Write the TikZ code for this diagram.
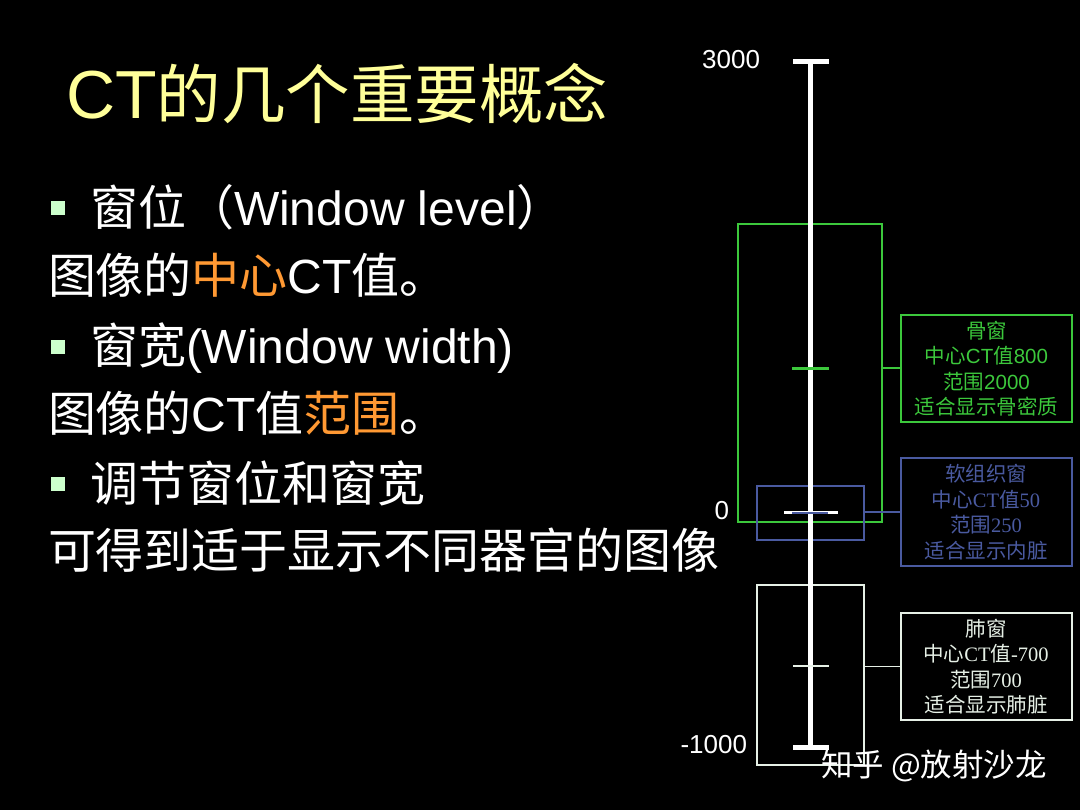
\documentclass[tikz,border=0pt]{standalone}
\usepackage{fontspec}
\setmainfont{Liberation Sans}
\newfontfamily\cjk{Noto Sans CJK SC}
\newfontfamily\serifl{Liberation Serif}
\newcommand\zh[1]{{\cjk #1}}
\newcommand\sr[1]{{\serifl #1}}
\definecolor{titley}{HTML}{FFFF99}
\definecolor{orng}{HTML}{FF9933}
\definecolor{bulg}{HTML}{CCFFCC}
\definecolor{boneg}{HTML}{3CC83C}
\definecolor{softb}{HTML}{4A5AA0}
\definecolor{lungw}{HTML}{E6F0E6}
\begin{document}
\begin{tikzpicture}[x=1pt,y=-1pt,
  every node/.style={inner sep=0pt, outer sep=0pt},
  body/.style={anchor=base west, text=white, font=\fontsize{48}{58}\selectfont},
  bul/.style={fill=bulg, draw=none, minimum size=14pt},
  rng/.style={draw, line width=1.5pt, fill=none},
  lbl/.style={draw, line width=2pt, align=center, font=\fontsize{20.5}{25.5}\selectfont, minimum width=171pt, minimum height=107pt},
  axl/.style={anchor=east, text=white, font=\fontsize{26}{30}\selectfont},
]
\fill[black] (0,0) rectangle (1080,810);
\useasboundingbox (0,0) rectangle (1080,810);

% title
\node[anchor=base west, text=titley, font=\fontsize{68}{80}\selectfont] (title) at (66,119)
  {CT{\cjk\fontsize{64.5}{80}\selectfont 的几个重要概念}};

% bullets
\node[bul] (b1) at (57.5,208) {};
\node[bul] (b3) at (57.5,347) {};
\node[bul] (b5) at (57.5,484) {};

% body lines
\node[body] (l1) at (90,226) {\zh{窗位（}Window level\zh{）}};
\node[body] (l2) at (48,294) {\zh{图像的}\textcolor{orng}{\zh{中心}}CT\zh{值。}};
\node[body] (l3) at (90,364) {\zh{窗宽}(Window width)};
\node[body] (l4) at (48,432) {\zh{图像的}CT\zh{值}\textcolor{orng}{\zh{范围}}\zh{。}};
\node[body] (l5) at (90,501) {\zh{调节窗位和窗宽}};
\node[body] (l6) at (48,568) {\zh{可得到适于显示不同器官的图像}};

% range boxes
\node[rng, draw=boneg, minimum width=144pt, minimum height=298pt] (gbox) at (810,373) {};
\node[rng, draw=softb, minimum width=107pt, minimum height=54pt] (bbox) at (810.5,513) {};
\node[rng, draw=lungw, line width=1.2pt, minimum width=107pt, minimum height=180pt] (wbox) at (810.5,675) {};

% label boxes
\node[lbl, draw=boneg, text=boneg] (bone) at (986.5,368.5)
  {\zh{骨窗}\\\zh{中心}CT\zh{值}800\\\zh{范围}2000\\\zh{适合显示骨密质}};
\node[lbl, draw=softb, text=softb] (soft) at (986,512)
  {\zh{软组织窗}\\\zh{中心}\sr{CT}\zh{值}\sr{50}\\\zh{范围}\sr{250}\\\zh{适合显示内脏}};
\node[lbl, draw=lungw, text=lungw] (lung) at (986,666.5)
  {\zh{肺窗}\\\zh{中心}\sr{CT}\zh{值}\sr{-700}\\\zh{范围}\sr{700}\\\zh{适合显示肺脏}};

% connectors
\draw[boneg, line width=2pt] (bone.west) -- (bone.west -| gbox.east);
\draw[softb, line width=2pt] (soft.west) -- (soft.west -| bbox.east);
\draw[lungw, line width=1.2pt] (lung.west) -- (lung.west -| wbox.east);

% axis
\coordinate (top) at (810,62);
\coordinate (bot) at (810,747);
\coordinate (tl) at (793,62);
\coordinate (tr) at (829,62);
\coordinate (bl) at (793,747);
\coordinate (br) at (829,747);
\draw[white, line width=5pt] (top) -- (bot);
\draw[white, line width=5pt] (tl) -- (tr);
\draw[white, line width=5pt] (bl) -- (br);

% ticks
\coordinate (z0l) at (784,512.5);
\coordinate (z0r) at (838,512.5);
\coordinate (s0l) at (792,512.5);
\coordinate (s0r) at (828,512.5);
\coordinate (g8l) at (792,369);
\coordinate (g8r) at (829,369);
\coordinate (p7l) at (793,666);
\coordinate (p7r) at (829,666);
\draw[white, line width=3pt] (z0l) -- (z0r);
\draw[softb, line width=2pt] (s0l) -- (s0r);
\draw[boneg, line width=3pt] (g8l) -- (g8r);
\draw[lungw, line width=1.2pt] (p7l) -- (p7r);

% axis labels
\node[axl] (a3000) at (760,60) {3000};
\node[axl] (a0) at (729,511) {0};
\node[axl] (am1000) at (747,745) {-1000};

% watermark
\node[anchor=base west, text=white, font=\cjk\fontsize{31.5}{36}\selectfont] (wm) at (821,776) {知乎 @放射沙龙};
\end{tikzpicture}
\end{document}
